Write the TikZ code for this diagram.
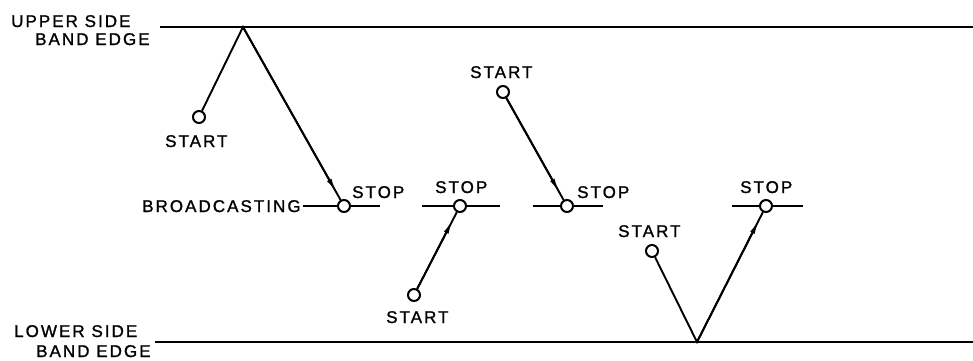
\documentclass[tikz,border=0pt]{standalone}
\usepackage{fontspec}
\setmainfont{Liberation Sans}[LetterSpace=12,FakeBold=1.2]
\usetikzlibrary{arrows.meta}
\begin{document}
\begin{tikzpicture}[x=1pt,y=-1pt,
  band/.style={line width=2.6pt},
  seg/.style={line width=2.2pt},
  path/.style={line width=1.9pt},
  pt/.style={circle,draw,line width=2pt,fill=white,minimum size=12pt,inner sep=0pt},
  arr/.style={line width=1.9pt,-{Latex[length=15pt,width=5pt]},shorten >=8pt},
  lbl/.style={font=\fontsize{17}{19}\selectfont,inner sep=0pt,anchor=base west}]
\useasboundingbox (0,0) rectangle (973,360);

% band edges
\coordinate (ub) at (160,27);
\coordinate (ue) at (973,27);
\coordinate (lb) at (155,342);
\coordinate (le) at (973,342);
\draw[band] (ub) -- (ue);
\draw[band] (lb) -- (le);
\node[lbl] (u1) at (11,27) {UPPER SIDE};
\node[lbl] (u2) at (35,45) {BAND EDGE};
\node[lbl] (l1) at (14,337) {LOWER SIDE};
\node[lbl] (l2) at (36,357) {BAND EDGE};

% broadcasting segments
\node[lbl] (bc) at (142,212) {BROADCASTING};
\coordinate (b1a) at (303,206); \coordinate (b1b) at (380,206);
\coordinate (b2a) at (422,206); \coordinate (b2b) at (500,206);
\coordinate (b3a) at (533,206); \coordinate (b3b) at (603,206);
\coordinate (b4a) at (732,206); \coordinate (b4b) at (803,206);
\draw[seg] (b1a) -- (b1b);
\draw[seg] (b2a) -- (b2b);
\draw[seg] (b3a) -- (b3b);
\draw[seg] (b4a) -- (b4b);

% first sweep: up to the upper edge, then down to the channel
\coordinate (p1) at (243,27);
\node[pt] (s1) at (199,117) {};
\node[pt] (e1) at (344,206) {};
\draw[path] (s1) -- (p1) -- (e1);
\draw[arr] (p1) -- (e1);
\node[lbl] (t1) at (165,147) {START};
\node[lbl] (o1) at (352,198) {STOP};

% second sweep
\node[pt] (s2) at (414,295) {};
\node[pt] (e2) at (460,206) {};
\draw[path] (s2) -- (e2);
\draw[arr] (s2) -- (e2);
\node[lbl] (t2) at (386,323) {START};
\node[lbl] (o2) at (435,193) {STOP};

% third sweep
\node[pt] (s3) at (503,92) {};
\node[pt] (e3) at (567,206) {};
\draw[path] (s3) -- (e3);
\draw[arr] (s3) -- (e3);
\node[lbl] (t3) at (470,78) {START};
\node[lbl] (o3) at (577,198) {STOP};

% fourth sweep: down to the lower edge, then up to the channel
\coordinate (p4) at (697,342);
\node[pt] (s4) at (652,251) {};
\node[pt] (e4) at (766,206) {};
\draw[path] (s4) -- (p4) -- (e4);
\draw[arr] (p4) -- (e4);
\node[lbl] (t4) at (618,237) {START};
\node[lbl] (o4) at (740,193) {STOP};
\end{tikzpicture}
\end{document}
